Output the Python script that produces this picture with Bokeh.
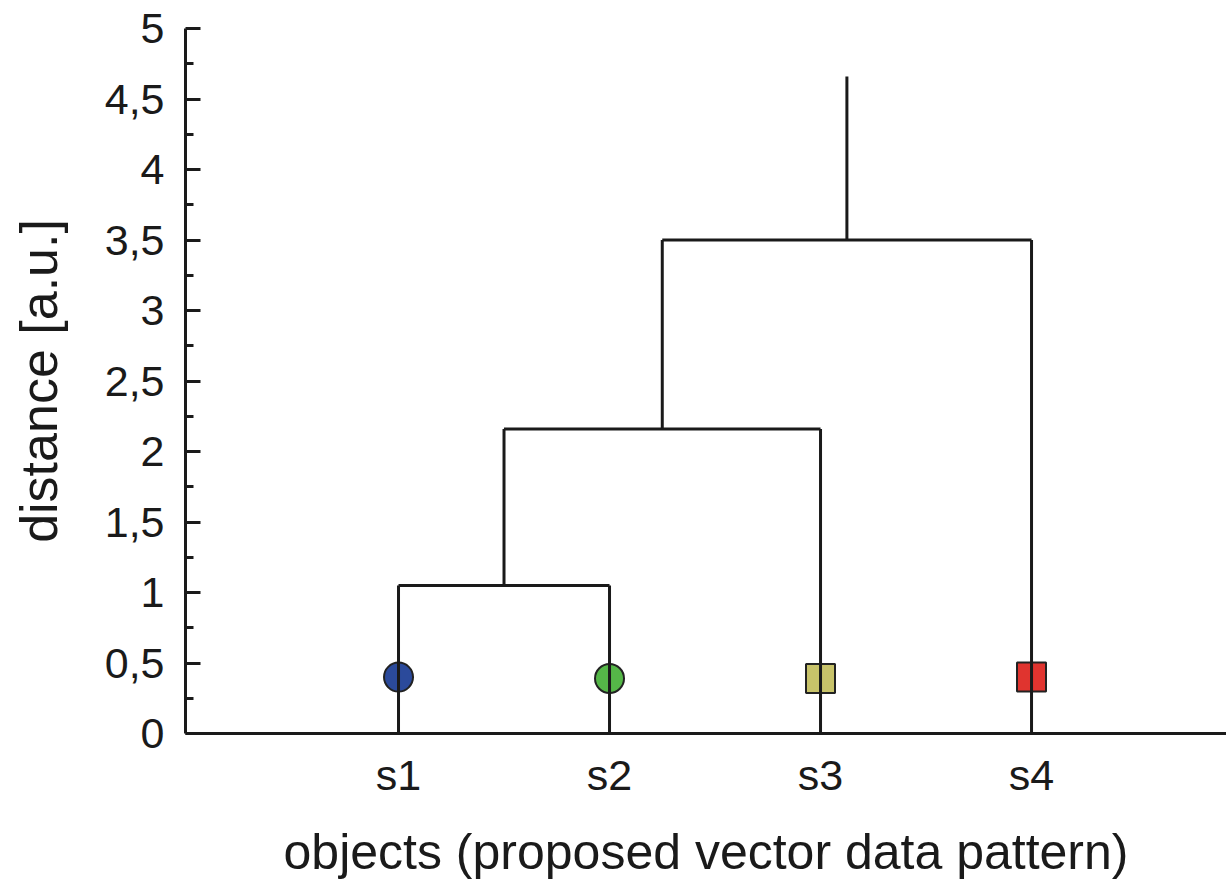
from bokeh.plotting import figure
from bokeh.models import FixedTicker, CustomJSTickFormatter, ColumnDataSource, Range1d
from bokeh.embed import file_html
from bokeh.resources import INLINE

# --- data ---
leaves = ["s1", "s2", "s3", "s4"]
leaf_x = [1, 2, 3, 4]
marker_y = [0.40, 0.39, 0.39, 0.40]
marker_shape = ["circle", "circle", "square", "square"]
marker_color = ["#2b4a9b", "#55b748", "#c8c36a", "#e0342f"]
# merges: (left index, right index, height); clusters numbered after leaves
merges = [(0, 1, 1.05), (4, 2, 2.16), (5, 3, 3.50)]
root_top = 4.66
y_ticks = [0, 0.5, 1, 1.5, 2, 2.5, 3, 3.5, 4, 4.5, 5]
y_minor = [0.25, 0.75, 1.25, 1.75, 2.25, 2.75, 3.25, 3.75, 4.25, 4.75]

FONT = "Liberation Sans"

p = figure(width=1226, height=884, output_backend="svg", toolbar_location=None,
           x_range=Range1d(-0.0095, 4.924), y_range=Range1d(0, 5),
           min_border_left=185, min_border_right=0, min_border_top=28, min_border_bottom=151)
p.grid.visible = False
p.outline_line_color = None

# markers (drawn first, lines on top)
for shape in ("circle", "square"):
    idx = [i for i, s in enumerate(marker_shape) if s == shape]
    src = ColumnDataSource(dict(x=[leaf_x[i] for i in idx], y=[marker_y[i] for i in idx],
                                c=[marker_color[i] for i in idx]))
    p.scatter("x", "y", source=src, marker=shape, size=29, fill_color="c",
              line_color="#222222", line_width=2)

# dendrogram segments
pos = {i: (leaf_x[i], 0.0) for i in range(len(leaves))}
x0, y0, x1, y1 = [], [], [], []
nid = len(leaves)
for a, b, h in merges:
    xa, ya = pos[a]
    xb, yb = pos[b]
    x0 += [xa, xb, xa]; y0 += [ya, yb, h]
    x1 += [xa, xb, xb]; y1 += [h, h, h]
    pos[nid] = ((xa + xb) / 2, h)
    nid += 1
rx, ry = pos[nid - 1]
x0.append(rx); y0.append(ry); x1.append(rx); y1.append(root_top)
p.segment(x0, y0, x1, y1, line_color="#1a1a1a", line_width=3)

# y axis
ya = p.yaxis[0]
ya.ticker = FixedTicker(ticks=y_ticks, minor_ticks=y_minor)
ya.formatter = CustomJSTickFormatter(code="return tick.toString().replace('.', ',');")
ya.major_tick_in = 15
ya.major_tick_out = 0
ya.minor_tick_in = 8
ya.minor_tick_out = 0
ya.major_tick_line_width = 3
ya.minor_tick_line_width = 3
ya.axis_line_width = 3
ya.axis_line_color = "#1a1a1a"
ya.major_tick_line_color = "#1a1a1a"
ya.minor_tick_line_color = "#1a1a1a"
ya.major_label_text_font = FONT
ya.major_label_text_font_size = "43px"
ya.major_label_text_color = "#1a1a1a"
ya.major_label_standoff = 21
ya.axis_label = "distance [a.u.]"
ya.axis_label_text_font = FONT
ya.axis_label_text_font_size = "52px"
ya.axis_label_text_font_style = "normal"
ya.axis_label_text_color = "#1a1a1a"
ya.axis_label_standoff = 34

# x axis
xa = p.xaxis[0]
xa.ticker = FixedTicker(ticks=leaf_x, minor_ticks=[])
xa.formatter = CustomJSTickFormatter(args=dict(labels=leaves),
                                     code="return labels[Math.round(tick) - 1];")
xa.major_tick_in = 0
xa.major_tick_out = 0
xa.minor_tick_in = 0
xa.minor_tick_out = 0
xa.axis_line_width = 3
xa.axis_line_color = "#1a1a1a"
xa.major_label_text_font = FONT
xa.major_label_text_font_size = "43px"
xa.major_label_text_color = "#1a1a1a"
xa.major_label_standoff = 17
xa.axis_label = "objects (proposed vector data pattern)"
xa.axis_label_text_font = FONT
xa.axis_label_text_font_size = "50px"
xa.axis_label_text_font_style = "normal"
xa.axis_label_text_color = "#1a1a1a"
xa.axis_label_standoff = 22

open("out.html", "w").write(file_html(p, INLINE))
